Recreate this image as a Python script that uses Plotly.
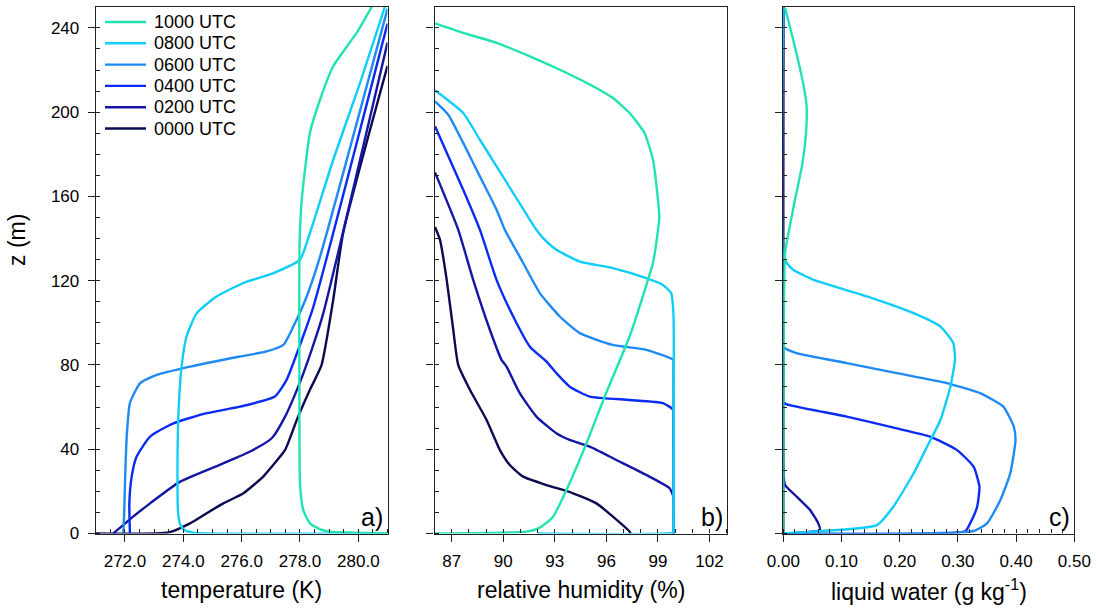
import plotly.graph_objects as go

# ---------------- data ----------------
TIMES = ["0000 UTC", "0200 UTC", "0400 UTC", "0600 UTC", "0800 UTC", "1000 UTC"]
COLORS = ["#0b0b52", "#1515a6", "#0a2cf2", "#1f8af4", "#10cdfa", "#1fe3b2"]

# panel a: temperature (K)
T_Z_0000 = [0, 0.5, 4.8, 9.6, 14.3, 19.1, 27, 31.7, 39.7, 53.9, 68.2, 80, 111, 142.6, 222]
T_0000 = [271.0, 273.5, 274.23, 274.80, 275.37, 276.06, 276.74, 277.03, 277.49, 277.89, 278.34, 278.74, 279.14, 279.48, 281.0]
T_Z_0200 = [0, 8, 14.3, 24.6, 33.3, 38.9, 45.2, 55.5, 69.7, 87.2, 104.6, 233]
T_0200 = [271.6, 272.28, 272.86, 273.89, 275.37, 276.29, 277.03, 277.49, 277.94, 278.40, 278.80, 281.0]
T_Z_0400 = [0, 14.3, 27, 36.5, 46, 52.3, 57.1, 60.2, 65, 72.9, 87.2, 107.7, 242]
T_0400 = [272.17, 272.15, 272.23, 272.40, 272.86, 273.66, 274.80, 275.94, 277.14, 277.54, 277.94, 278.46, 281.0]
T_Z_0600 = [0, 8, 23.8, 46, 61.9, 71.4, 75.3, 79.2, 84, 86.4, 89.5, 98.2, 112.5, 131.5, 249]
T_0600 = [271.94, 271.97, 272.0, 272.06, 272.17, 272.52, 273.09, 274.23, 275.94, 276.86, 277.43, 277.77, 278.23, 278.69, 281.0]
T_Z_0800 = [0, 0.3, 1.5, 4, 10, 23.8, 55.5, 79.2, 93.5, 104.6, 112.5, 118.9, 123.6, 130, 142.6, 177.4, 213.9, 250]
T_0800 = [281.0, 274.4, 274.05, 273.9, 273.82, 273.80, 273.83, 273.94, 274.11, 274.46, 275.14, 276.06, 277.09, 278.0, 278.34, 279.14, 280.06, 280.91]
T_Z_1000 = [0, 0.9, 2, 4.8, 11.2, 23.8, 71.4, 134.7, 158.4, 190.1, 206, 221.8, 237.6, 250]
T_1000 = [281.0, 279.03, 278.7, 278.34, 278.11, 278.0, 277.98, 277.98, 278.06, 278.34, 278.69, 279.14, 279.94, 280.46]

# panel b: relative humidity (%)
RH_Z_0000 = [0, 0.9, 8, 14.3, 19.1, 23, 27, 32.5, 39.7, 53.9, 68.2, 80, 96.7, 120.4, 139.4, 145.5]
RH_0000 = [97.4, 97.35, 96.38, 95.42, 94.06, 92.52, 91.16, 90.38, 89.80, 89.03, 88.06, 87.38, 87.09, 86.71, 86.32, 86.03]
RH_Z_0200 = [0, 16, 17.5, 21.5, 27.8, 34.9, 41.2, 44.4, 47.6, 55.5, 66.6, 79.2, 82.4, 96.7, 120.4, 144.2, 171.4]
RH_0200 = [99.9, 99.9, 99.9, 99.68, 98.32, 96.58, 95.03, 93.87, 93.09, 91.93, 90.96, 90.19, 89.90, 89.22, 88.25, 87.38, 86.03]
RH_Z_0400 = [0, 57.2, 58.7, 61.9, 63.4, 65, 69.7, 76.1, 81.6, 88.7, 103, 120.4, 144.2, 163.2, 193.3]
RH_0400 = [99.9, 99.9, 99.9, 99.29, 97.35, 95.03, 93.87, 93.09, 92.52, 91.55, 90.58, 89.61, 88.64, 87.67, 86.03]
RH_Z_0600 = [0, 80.9, 82.4, 87.2, 89.5, 95.1, 103, 114.1, 128.4, 144.2, 153.7, 169.5, 185.4, 198.8, 205.1]
RH_0600 = [99.9, 99.9, 99.9, 98.32, 96.38, 94.45, 93.29, 92.13, 91.16, 90.09, 89.61, 88.64, 87.67, 86.8, 86.03]
RH_Z_0800 = [0, 0.5, 1.5, 104.6, 114.1, 118, 121.2, 126, 129.1, 134.7, 140.2, 144.2, 148.9, 161.6, 174.3, 186.9, 199.6, 210.4]
RH_0800 = [92.0, 99.9, 99.9, 99.9, 99.77, 99.29, 98.32, 96.38, 94.45, 93.09, 92.32, 91.93, 91.55, 90.58, 89.61, 88.64, 87.67, 86.03]
RH_Z_1000 = [0, 0.9, 2.8, 8, 20.7, 42.8, 65, 93.5, 120.4, 128.4, 143.9, 150, 158.4, 177.4, 190.1, 199.6, 206.7, 213.1, 219.4, 226.5, 232.9, 237.6, 242.1]
RH_1000 = [86.0, 91.35, 92.13, 92.9, 93.68, 94.84, 95.90, 97.35, 98.42, 98.71, 99.0, 99.08, 99.0, 98.71, 98.22, 97.35, 96.38, 95.03, 93.48, 91.55, 89.61, 87.67, 86.03]

# panel c: liquid water (g/kg)
Q_Z_0000 = [0, 250]
Q_0000 = [0.0, 0.0]
Q_Z_0200 = [0, 1.7, 4.8, 11.2, 17.5, 23, 30, 250]
Q_0200 = [0.0, 0.063, 0.060, 0.046, 0.023, 0.003, 0.0, 0.0]
Q_Z_0400 = [0, 1.2, 4.8, 12.7, 22.2, 31.7, 39.7, 46, 49.9, 55.5, 60.2, 62.3, 250]
Q_0400 = [0.0, 0.313, 0.321, 0.333, 0.337, 0.327, 0.298, 0.252, 0.195, 0.109, 0.023, 0.0, 0.0]
Q_Z_0600 = [0, 1.2, 4.8, 15.9, 28.6, 44.4, 50.7, 60.2, 66.6, 71.4, 76.1, 80.9, 85.6, 88.7, 250]
Q_0600 = [0.0, 0.327, 0.350, 0.373, 0.390, 0.399, 0.396, 0.378, 0.338, 0.281, 0.195, 0.109, 0.023, 0.0, 0.0]
Q_Z_0800 = [0, 0.9, 2, 4, 12.7, 28.6, 41.2, 53.9, 69.7, 82.4, 90.4, 98.2, 104.6, 112, 120.4, 125.2, 128.4, 131.5, 250]
Q_0800 = [0.0, 0.051, 0.109, 0.161, 0.189, 0.224, 0.247, 0.270, 0.287, 0.295, 0.292, 0.270, 0.224, 0.150, 0.052, 0.017, 0.006, 0.0, 0.0]
Q_Z_1000 = [0, 133, 142.6, 158.4, 174.3, 190.1, 202.8, 213.9, 234.4, 249.5]
Q_1000 = [0.0, 0.003, 0.009, 0.020, 0.032, 0.039, 0.040, 0.034, 0.017, 0.003]

T_SERIES = [(T_0000, T_Z_0000), (T_0200, T_Z_0200), (T_0400, T_Z_0400),
            (T_0600, T_Z_0600), (T_0800, T_Z_0800), (T_1000, T_Z_1000)]
RH_SERIES = [(RH_0000, RH_Z_0000), (RH_0200, RH_Z_0200), (RH_0400, RH_Z_0400),
             (RH_0600, RH_Z_0600), (RH_0800, RH_Z_0800), (RH_1000, RH_Z_1000)]
Q_SERIES = [(Q_0000, Q_Z_0000), (Q_0200, Q_Z_0200), (Q_0400, Q_Z_0400),
            (Q_0600, Q_Z_0600), (Q_0800, Q_Z_0800), (Q_1000, Q_Z_1000)]

# ---------------- figure ----------------
W, H = 1096, 608
FONT = "Liberation Sans, Arial, Helvetica, sans-serif"
LINE_W = 2.4

fig = go.Figure()
panels = [("x", "y", T_SERIES), ("x2", "y2", RH_SERIES), ("x3", "y3", Q_SERIES)]
for pi, (xa, ya, series) in enumerate(panels):
    for i, (vals, zs) in enumerate(series):
        fig.add_trace(go.Scatter(
            x=vals, y=zs, xaxis=xa, yaxis=ya, mode="lines",
            line=dict(color=COLORS[i], width=LINE_W, shape="spline", smoothing=0.5),
            name=TIMES[i], legendgroup=TIMES[i], showlegend=False,
        ))

def px_x(p):
    return p / W

def px_y(p):
    return (H - p) / H

ydom = [px_y(533.5), px_y(6.8)]
xdoms = [[px_x(95.8), px_x(387.5)], [px_x(434.5), px_x(726.7)], [px_x(783.3), px_x(1074.3)]]

AX_COL = "#222222"
common = dict(showline=True, linecolor=AX_COL, linewidth=1.3, mirror=True,
              showgrid=False, zeroline=False, ticks="outside", ticklen=7,
              tickwidth=1.2, tickcolor=AX_COL, automargin=False,
              tickfont=dict(family=FONT, size=17, color="black"))

def minor(dt, t0):
    return dict(dtick=dt, tick0=t0, ticks="inside", ticklen=4, tickcolor=AX_COL, showgrid=False)

fig.update_layout(
    width=W, height=H, margin=dict(l=0, r=0, t=0, b=0, pad=0, autoexpand=False),
    paper_bgcolor="white", plot_bgcolor="white",
    font=dict(family=FONT, color="black"),
    xaxis=dict(domain=xdoms[0], anchor="y", range=[271, 281], tickvals=[272, 274, 276, 278, 280],
               tickformat=".1f", ticklabelstandoff=5, minor=minor(0.5, 271), **common),
    xaxis2=dict(domain=xdoms[1], anchor="y2", range=[86, 103], tick0=87, dtick=3,
                ticklabelstandoff=5, minor=minor(1, 86), **common),
    xaxis3=dict(domain=xdoms[2], anchor="y3", range=[0, 0.5], tick0=0, dtick=0.1, tickformat=".2f",
                ticklabelstandoff=5, minor=minor(0.02, 0), **common),
    yaxis=dict(domain=ydom, anchor="x", range=[0, 250], tick0=0, dtick=40, ticklabelstandoff=5,
               minor=minor(10, 0), **common),
    yaxis2=dict(domain=ydom, anchor="x2", range=[0, 250], tick0=0, dtick=40, showticklabels=False,
                minor=minor(10, 0), **common),
    yaxis3=dict(domain=ydom, anchor="x3", range=[0, 250], tick0=0, dtick=40, showticklabels=False,
                minor=minor(10, 0), **common),
    showlegend=False,
)

# legend (drawn inside panel a, newest time on top)
LEG_Y0, LEG_DY = 22.0, 21.3
for row, i in enumerate(range(len(TIMES) - 1, -1, -1)):
    yy = px_y(LEG_Y0 + row * LEG_DY)
    fig.add_shape(type="line", xref="paper", yref="paper", x0=px_x(105), x1=px_x(146), y0=yy, y1=yy,
                  line=dict(color=COLORS[i], width=LINE_W))
    fig.add_annotation(text=TIMES[i], x=px_x(152), y=yy, xref="paper", yref="paper",
                       xanchor="left", yanchor="middle", showarrow=False,
                       font=dict(family=FONT, size=18, color="black"))

# axis titles
titles = ["temperature (K)", "relative humidity (%)", "liquid water (g kg<sup>-1</sup>)"]
for dom, t in zip(xdoms, titles):
    fig.add_annotation(text=t, x=(dom[0] + dom[1]) / 2, y=px_y(590), xref="paper", yref="paper",
                       xanchor="center", yanchor="middle", showarrow=False,
                       font=dict(family=FONT, size=23, color="black"))
fig.add_annotation(text="z (m)", x=px_x(17), y=px_y(240), xref="paper", yref="paper",
                   textangle=-90, xanchor="center", yanchor="middle", showarrow=False,
                   font=dict(family=FONT, size=23, color="black"))

# panel labels
for dom, lab in zip(xdoms, ["a)", "b)", "c)"]):
    fig.add_annotation(text=lab, x=dom[1] - px_x(2), y=px_y(517), xref="paper", yref="paper",
                       xanchor="right", yanchor="middle", showarrow=False,
                       font=dict(family=FONT, size=25, color="black"))

fig.write_html("out.html")
